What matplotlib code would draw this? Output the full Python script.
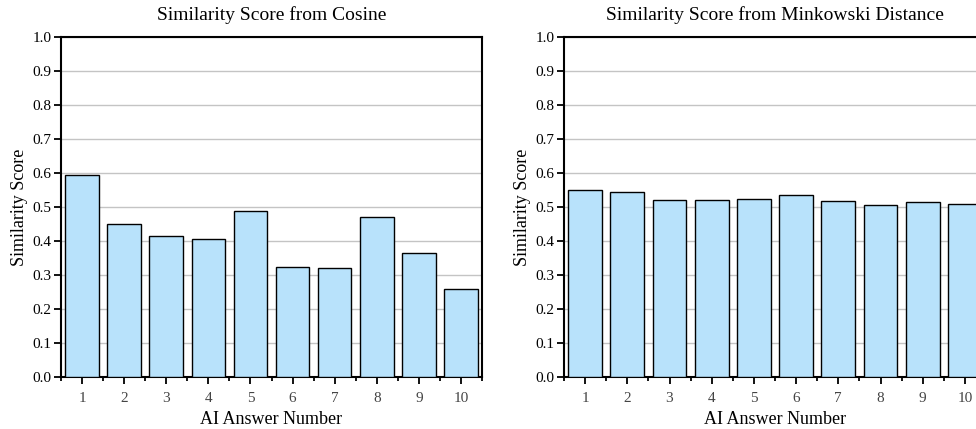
import numpy as np
import matplotlib
matplotlib.use("Agg")
import matplotlib.pyplot as plt
from matplotlib.ticker import MultipleLocator

plt.rcParams['font.family'] = ['Liberation Serif', 'DejaVu Serif']

answers = np.arange(1, 11)
cosine_scores = [0.595, 0.451, 0.415, 0.407, 0.488, 0.324, 0.321, 0.471, 0.365, 0.260]
minkowski_scores = [0.549, 0.545, 0.521, 0.522, 0.525, 0.535, 0.519, 0.507, 0.516, 0.508]
titles = ["Similarity Score from Cosine", "Similarity Score from Minkowski Distance"]
yticks = np.round(np.arange(0, 1.01, 0.1), 1)

bar_color = "#b8e2fb"

fig = plt.figure(figsize=(9.76, 4.29), dpi=100)
ax1 = fig.add_axes([61 / 976, 52 / 429, 421 / 976, 340 / 429])
ax2 = fig.add_axes([564 / 976, 52 / 429, 422 / 976, 340 / 429])

for ax, scores, title in zip((ax1, ax2), (cosine_scores, minkowski_scores), titles):
    ax.bar(answers, scores, width=0.8, color=bar_color, edgecolor="black",
           linewidth=1.0, zorder=3)
    ax.set_xlim(0.5, 10.5)
    ax.set_ylim(0, 1.0)
    ax.set_yticks(yticks)
    ax.set_yticklabels([f"{v:.1f}" for v in yticks])
    ax.set_xticks(answers)
    ax.xaxis.set_minor_locator(MultipleLocator(1, offset=0.5))
    ax.grid(axis="y", color="#c4c4c4", linewidth=1.0, zorder=0)
    ax.set_axisbelow(True)
    for sp in ax.spines.values():
        sp.set_linewidth(1.5)
    ax.tick_params(axis="both", which="major", direction="out", length=5,
                   width=1.3, labelsize=11)
    ax.tick_params(axis="y", which="major", pad=2)
    ax.tick_params(axis="x", which="minor", direction="out", length=3, width=1.3)
    ax.tick_params(axis="x", which="major", pad=6, labelcolor="#444444")
    ax.set_title(title, fontsize=14, pad=12)
    ax.set_xlabel("AI Answer Number", fontsize=13, labelpad=4)
    ax.set_ylabel("Similarity Score", fontsize=13, labelpad=3)

fig.savefig("out.png", dpi=100)
